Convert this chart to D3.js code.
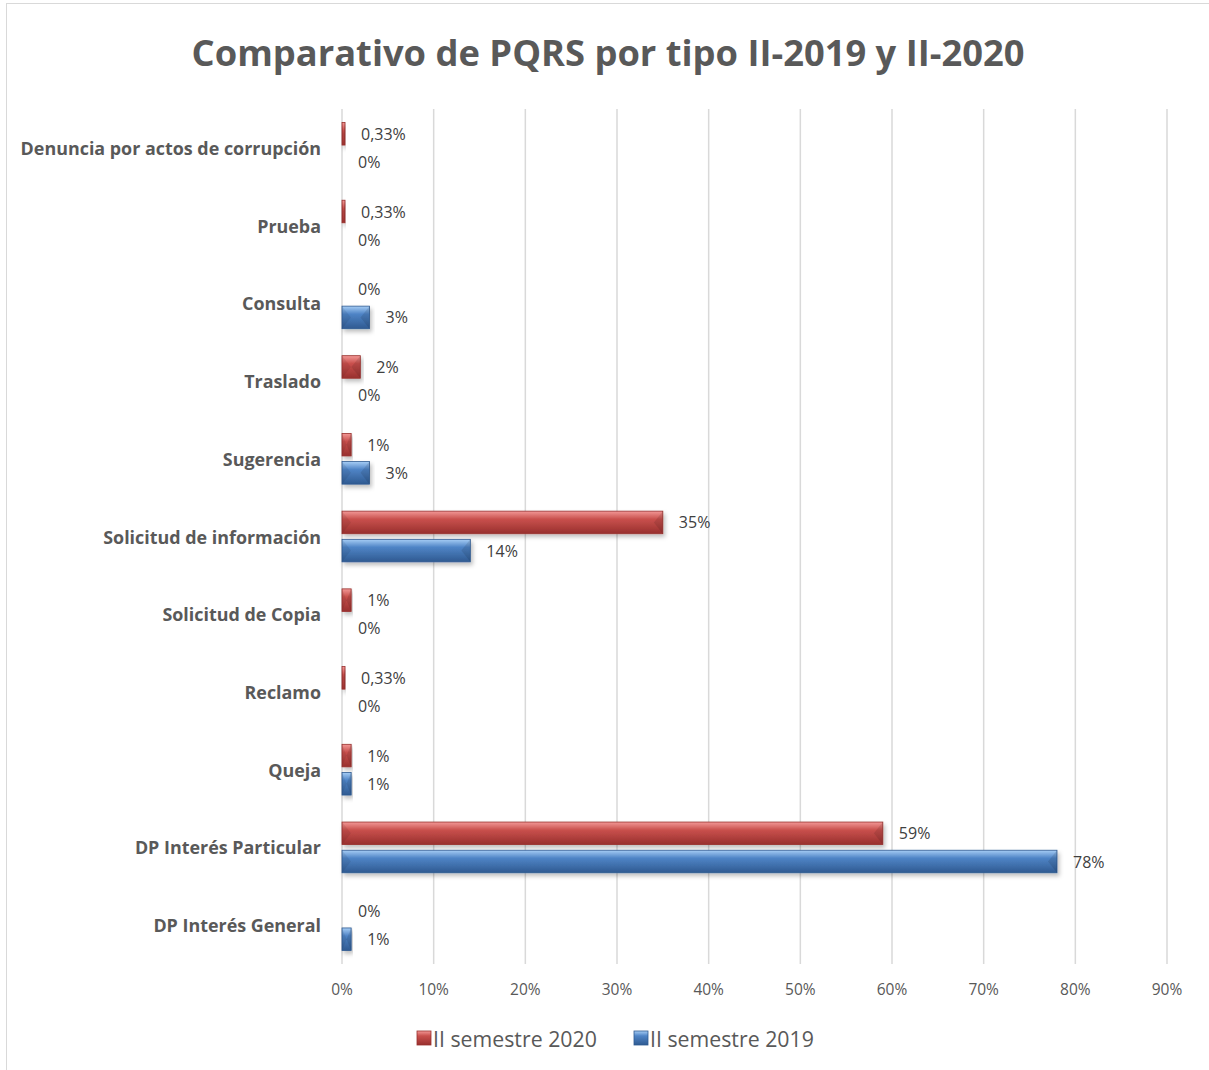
<!DOCTYPE html>
<html>
<head>
<meta charset="utf-8">
<script src="https://cdn.jsdelivr.net/npm/d3@7"></script>
<style>
  body { margin: 0; background: #fff; }
  text { font-family: "Open Sans", Lato, sans-serif; }
</style>
</head>
<body>
<div id="chart"></div>
<script>

// Categories from top to bottom, with the share (%) for each semester

var categories = [
  "Denuncia por actos de corrupción", "Prueba", "Consulta", "Traslado", "Sugerencia",
  "Solicitud de información", "Solicitud de Copia", "Reclamo", "Queja",
  "DP Interés Particular", "DP Interés General"
];

var values2020 = [0.33, 0.33, 0, 2, 1, 35, 1, 0.33, 1, 59, 0];
var values2019 = [0, 0, 3, 0, 3, 14, 0, 0, 1, 78, 1];

var seriesNames = ["II semestre 2020", "II semestre 2019"];
var xTicks = [0, 10, 20, 30, 40, 50, 60, 70, 80, 90];

var width = 1209,
    height = 1070;

var plot = { left: 342, right: 1167, top: 109, bottom: 964 };

var colors = {
  "II semestre 2020": { light: "#f29896", mid: "#c9504d", dark: "#98302e" },
  "II semestre 2019": { light: "#a6cdf5", mid: "#4f84c6", dark: "#2f5a91" }
};

var xScale = d3.scaleLinear()
    .domain([0, 90])
    .range([plot.left, plot.right]);

var yScale = d3.scaleBand()
    .domain(categories)
    .range([plot.top, plot.bottom]);

var seriesScale = d3.scaleBand()
    .domain(seriesNames)
    .range([13.5, yScale.bandwidth() - 13.5])
    .paddingInner(0.2);

var svg = d3.select("#chart").append("svg")
    .attr("width", width)
    .attr("height", height);

var defs = svg.append("defs");

seriesNames.forEach(function(name, i) {
  var c = colors[name];
  var g = defs.append("linearGradient")
      .attr("id", "grad" + i)
      .attr("x1", 0).attr("y1", 0).attr("x2", 0).attr("y2", 1);
  g.append("stop").attr("offset", "0%").attr("stop-color", c.light);
  g.append("stop").attr("offset", "35%").attr("stop-color", c.mid);
  g.append("stop").attr("offset", "100%").attr("stop-color", c.dark);
});

var shadow = defs.append("filter")
    .attr("id", "shadow")
    .attr("x", "-10%").attr("y", "-30%").attr("width", "130%").attr("height", "180%");
shadow.append("feDropShadow")
    .attr("dx", 2).attr("dy", 3).attr("stdDeviation", 2)
    .attr("flood-color", "#000").attr("flood-opacity", 0.25);

// Chart frame

svg.append("rect")
    .attr("x", 6.5)
    .attr("y", 3.5)
    .attr("width", width)
    .attr("height", height)
    .attr("fill", "none")
    .attr("stroke", "#d9d9d9");

// Title

svg.append("text")
    .attr("x", 608)
    .attr("y", 52)
    .attr("text-anchor", "middle")
    .attr("dominant-baseline", "central")
    .attr("fill", "#595959")
    .style("font-size", "36.3px")
    .style("font-weight", "bold")
    .text("Comparativo de PQRS por tipo II-2019 y II-2020");

// Vertical gridlines and x tick labels

svg.append("g")
    .attr("class", "grid")
  .selectAll("line")
    .data(xTicks)
  .enter().append("line")
    .attr("x1", function(d) { return xScale(d); })
    .attr("x2", function(d) { return xScale(d); })
    .attr("y1", plot.top)
    .attr("y2", plot.bottom)
    .attr("stroke", "#d9d9d9")
    .attr("stroke-width", 1.5);

svg.append("g")
    .attr("class", "x-ticks")
  .selectAll("text")
    .data(xTicks)
  .enter().append("text")
    .attr("x", function(d) { return xScale(d); })
    .attr("y", 989)
    .attr("text-anchor", "middle")
    .attr("dominant-baseline", "central")
    .attr("fill", "#595959")
    .style("font-size", "15.5px")
    .text(function(d) { return d + "%"; });

// Category labels

svg.append("g")
    .attr("class", "y-labels")
  .selectAll("text")
    .data(categories)
  .enter().append("text")
    .attr("x", 321)
    .attr("y", function(d) { return yScale(d) + yScale.bandwidth() / 2; })
    .attr("text-anchor", "end")
    .attr("dominant-baseline", "central")
    .attr("fill", "#595959")
    .style("font-size", "17.9px")
    .style("font-weight", "bold")
    .text(function(d) { return d; });

// Bars, one row per category and semester

var rows = [];
categories.forEach(function(cat, i) {
  rows.push({ cat: cat, series: seriesNames[0], idx: 0, value: values2020[i] });
  rows.push({ cat: cat, series: seriesNames[1], idx: 1, value: values2019[i] });
});

function fmt(v) {
  return Number.isInteger(v) ? v + "%" : v.toFixed(2).replace(".", ",") + "%";
}

var bars = svg.append("g")
    .attr("class", "bars")
  .selectAll("g")
    .data(rows.filter(function(d) { return d.value > 0; }))
  .enter().append("g")
    .attr("transform", function(d) {
      return "translate(" + xScale(0) + "," + (yScale(d.cat) + seriesScale(d.series)) + ")";
    });

var bh = seriesScale.bandwidth();

bars.append("rect")
    .attr("width", function(d) { return xScale(d.value) - xScale(0); })
    .attr("height", bh)
    .attr("fill", function(d) { return "url(#grad" + d.idx + ")"; })
    .attr("stroke", function(d) { return colors[d.series].dark; })
    .attr("stroke-width", 0.8)
    .attr("filter", "url(#shadow)");

// Bevelled ends

bars.append("path")
    .attr("d", function(d) {
      var w = xScale(d.value) - xScale(0), b = Math.min(9, w / 2);
      return "M0,0L" + b + "," + (bh / 2) + "L0," + bh + "Z";
    })
    .attr("fill", "#000")
    .attr("fill-opacity", 0.07);

bars.append("path")
    .attr("d", function(d) {
      var w = xScale(d.value) - xScale(0), b = Math.min(9, w / 2);
      return "M" + w + ",0L" + (w - b) + "," + (bh / 2) + "L" + w + "," + bh + "Z";
    })
    .attr("fill", "#000")
    .attr("fill-opacity", 0.1);

// Data labels

svg.append("g")
    .attr("class", "labels")
  .selectAll("text")
    .data(rows)
  .enter().append("text")
    .attr("x", function(d) { return xScale(d.value) + 16; })
    .attr("y", function(d) { return yScale(d.cat) + seriesScale(d.series) + bh / 2; })
    .attr("dominant-baseline", "central")
    .attr("fill", "#404040")
    .style("font-size", "16px")
    .text(function(d) { return fmt(d.value); });

// Legend

var legend = svg.append("g")
    .attr("class", "legend")
  .selectAll("g")
    .data(seriesNames)
  .enter().append("g")
    .attr("transform", function(d, i) { return "translate(" + (417 + i * 217) + ",1038)"; });

legend.append("rect")
    .attr("y", -7)
    .attr("width", 14)
    .attr("height", 14)
    .attr("fill", function(d, i) { return "url(#grad" + i + ")"; })
    .attr("stroke", function(d) { return colors[d].dark; })
    .attr("stroke-width", 0.8);

legend.append("text")
    .attr("x", 16)
    .attr("dominant-baseline", "central")
    .attr("fill", "#595959")
    .style("font-size", "21.3px")
    .text(function(d) { return d; });

</script>
</body>
</html>
